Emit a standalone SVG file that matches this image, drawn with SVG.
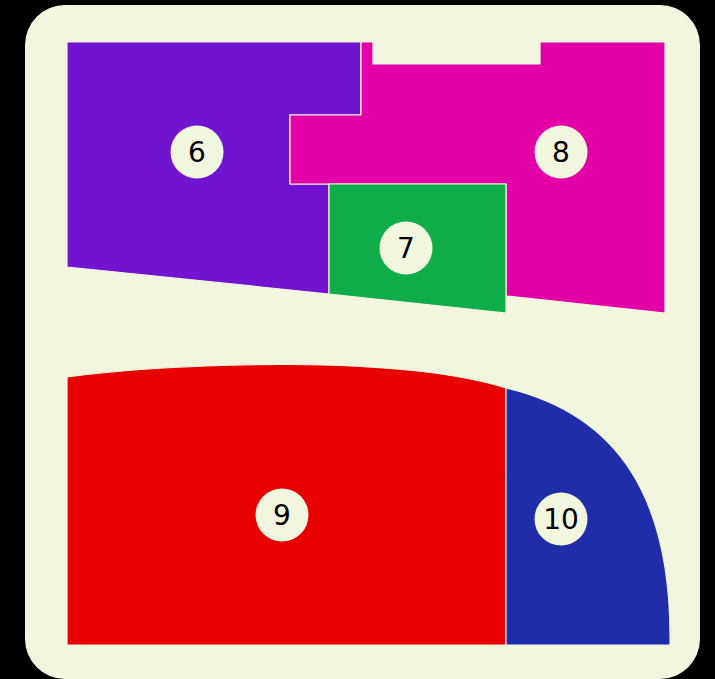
<svg xmlns="http://www.w3.org/2000/svg" width="715" height="679" viewBox="0 0 715 679">
<style>
.r{stroke:#f3f6de;stroke-width:1.2;stroke-linejoin:miter}
.c{fill:#f3f6de}
.t{font-family:"DejaVu Sans",sans-serif;font-size:28px;fill:#000;text-anchor:middle;dominant-baseline:central}
</style>
<rect x="0" y="0" width="715" height="679" fill="#000"/>
<rect x="25" y="5" width="675" height="674" rx="40" fill="#f3f6de"/>
<g id="n6">
<path class="r" fill="#7213d0" d="M67,42 H361 V115 H290 V184 H329 V294 L67,267 Z"/>
<circle class="c" cx="197" cy="152" r="26.5"/><text class="t" x="197" y="152">6</text>
</g>
<g id="n8">
<path class="r" fill="#e300a6" d="M361,42 H373 V64 H540 V42 H665 V313 L506,296 V184 H290 V115 H361 Z"/>
<circle class="c" cx="561" cy="152" r="26.5"/><text class="t" x="561" y="152">8</text>
</g>
<g id="n7">
<path class="r" fill="#0fad4a" d="M329,184 H506 V313 L329,294 Z"/>
<circle class="c" cx="406" cy="248" r="26.5"/><text class="t" x="406" y="248">7</text>
</g>
<g id="n9">
<path class="r" fill="#e80000" d="M67,377 C180,362 400,355 506,388 V645 H67 Z"/>
<circle class="c" cx="282" cy="515" r="26.5"/><text class="t" x="282" y="515">9</text>
</g>
<g id="n10">
<path class="r" fill="#1f2ea8" d="M506,388 C620,415 672,500 670,645 H506 Z"/>
<circle class="c" cx="561" cy="519" r="26.5"/><text class="t" x="561" y="519">10</text>
</g>
<g id="connectors"/>
</svg>
